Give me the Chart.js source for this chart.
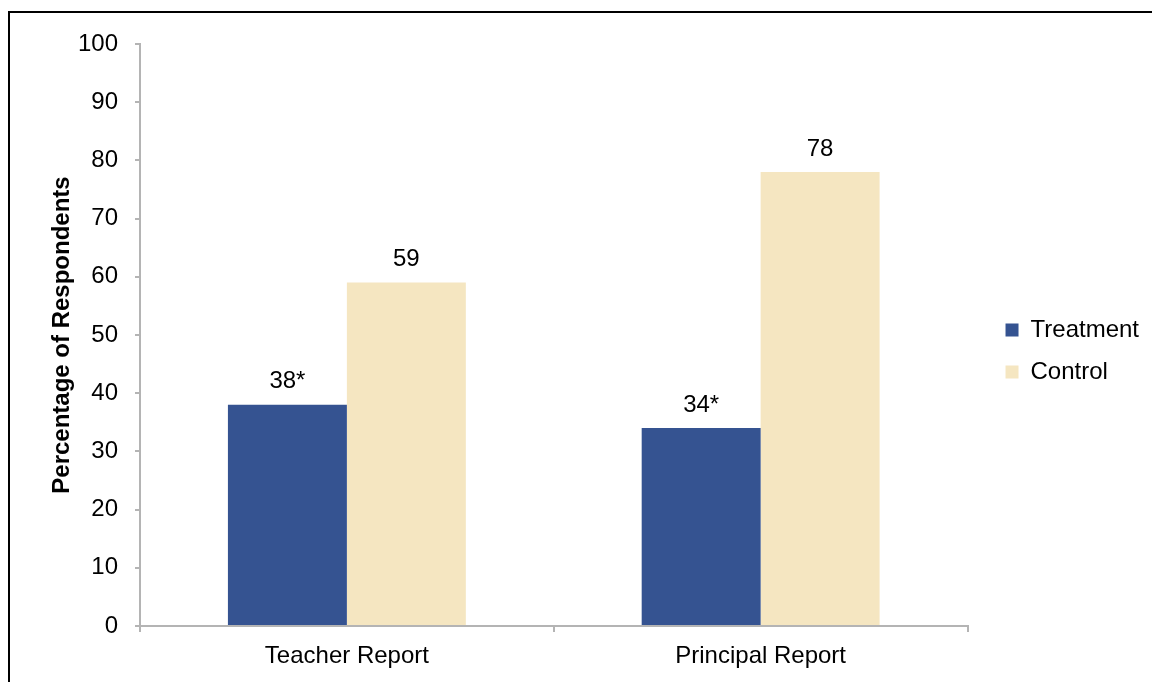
<!DOCTYPE html>
<html>
<head>
<meta charset="utf-8">
<script src="https://cdn.jsdelivr.net/npm/chart.js@4"></script>
<style>
  html, body { margin: 0; padding: 0; background: #fff; overflow: hidden; }
  #wrap { position: relative; width: 1152px; height: 682px; overflow: hidden; }
  #frame { position: absolute; left: 8px; top: 11px; width: 1300px; height: 900px;
           border-top: 2px solid #000; border-left: 2px solid #000; pointer-events: none; }
  canvas { display: block; }
</style>
</head>
<body>
<div id="wrap">
  <canvas id="c" width="1152" height="682"></canvas>
  <div id="frame"></div>
</div>
<script>
const categories = ["Teacher Report", "Principal Report"];
const seriesNames = ["Treatment", "Control"];
const treatmentValues = [38, 34];
const controlValues = [59, 78];
const treatmentLabels = ["38*", "34*"];
const controlLabels = ["59", "78"];
const yTicks = [0, 10, 20, 30, 40, 50, 60, 70, 80, 90, 100];

const FONT = "'Liberation Sans', Arial, sans-serif";
const AXIS = "#b4b4b4";

const valueLabels = {
  id: "valueLabels",
  afterDatasetsDraw(chart) {
    const ctx = chart.ctx;
    ctx.save();
    ctx.font = "24px " + FONT;
    ctx.fillStyle = "#000";
    ctx.textAlign = "center";
    ctx.textBaseline = "middle";
    chart.data.datasets.forEach((ds, i) => {
      const meta = chart.getDatasetMeta(i);
      meta.data.forEach((bar, j) => {
        ctx.fillText(ds.valueText[j], bar.x, bar.y - 23);
      });
    });
    ctx.restore();
  }
};

const legendShift = {
  id: "legendShift",
  afterLayout(chart) {
    const l = chart.legend;
    if (!l) return;
    const dx = 20, dy = -12;
    l.left += dx; l.right += dx; l.top += dy; l.bottom += dy;
  }
};

new Chart(document.getElementById("c"), {
  type: "bar",
  data: {
    labels: categories,
    datasets: [
      { label: seriesNames[0], data: treatmentValues, valueText: treatmentLabels,
        backgroundColor: "#355391", borderWidth: 0 },
      { label: seriesNames[1], data: controlValues, valueText: controlLabels,
        backgroundColor: "#f5e6c1", borderWidth: 0 }
    ]
  },
  options: {
    responsive: false,
    animation: false,
    devicePixelRatio: 1,
    categoryPercentage: 0.575,
    barPercentage: 1.0,
    layout: { padding: { top: 44, right: 23, bottom: 0, left: 0 } },
    plugins: {
      tooltip: { enabled: false },
      legend: {
        position: "right",
        align: "center",
        labels: {
          boxWidth: 13, boxHeight: 13, padding: 18,
          color: "#000",
          font: { family: FONT, size: 24 }
        }
      }
    },
    scales: {
      x: {
        grid: { offset: true, drawOnChartArea: false, drawTicks: true, tickLength: 6,
                color: AXIS, lineWidth: 2 },
        border: { color: AXIS, width: 2 },
        ticks: { color: "#000", font: { family: FONT, size: 24 }, padding: 10 },
        afterFit(scale) { scale.height = 56; }
      },
      y: {
        min: 0, max: 100,
        afterBuildTicks(scale) { scale.ticks = yTicks.map(v => ({ value: v })); },
        grid: { drawOnChartArea: false, drawTicks: true, tickLength: 5,
                color: AXIS, lineWidth: 2 },
        border: { color: AXIS, width: 2 },
        ticks: { color: "#000", font: { family: FONT, size: 24 }, padding: 17 },
        title: {
          display: true, text: "Percentage of Respondents", color: "#000",
          font: { family: FONT, size: 24, weight: "bold" },
          padding: { top: 48, bottom: 0 }
        },
        afterFit(scale) { scale.width = 140; }
      }
    }
  },
  plugins: [valueLabels, legendShift]
});
</script>
</body>
</html>
